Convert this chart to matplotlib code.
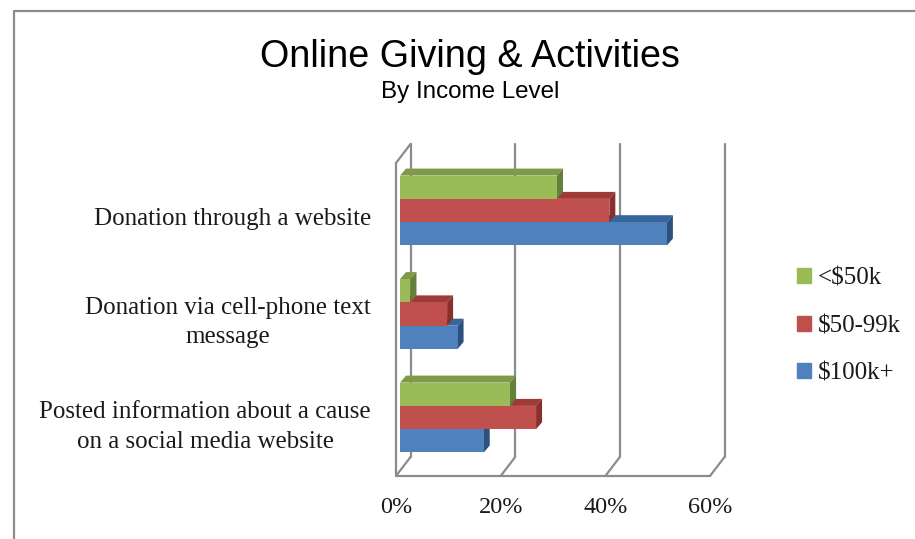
import matplotlib
matplotlib.use("Agg")
import matplotlib.pyplot as plt
from matplotlib.lines import Line2D
from matplotlib.patches import Patch
from matplotlib.transforms import ScaledTranslation

categories = [
    "Donation through a website",
    "Donation via cell-phone text\nmessage",
    "Posted information about a cause\non a social media website",
]
series_names = ["<$50k", "$50-99k", "$100k+"]
low_income = [30, 2, 21]
mid_income = [40, 9, 26]
high_income = [51, 11, 16]
x_ticks = [0, 20, 40, 60]

W, H = 915, 539
# fill colours: front, top, side
GREEN = ("#9BBB59", "#7E9A48", "#64803A")
RED = ("#C0504D", "#9E3B39", "#8A2F2D")
BLUE = ("#4F81BD", "#38659B", "#2C5180")
WALL = "#8C8C8C"
SERIF = "Liberation Serif"
SANS = "Liberation Sans"

fig = plt.figure(figsize=(W / 100, H / 100), dpi=100, facecolor="white")
left, right, top, bottom = 396, 710, 163, 476
ax = fig.add_axes([left / W, 1 - bottom / H, (right - left) / W, (bottom - top) / H])
ax.set_xlim(0, 60)
ax.set_ylim(2.502, -0.522)
ax.patch.set_visible(False)
for sp in ax.spines.values():
    sp.set_visible(False)

xpx = 60 / (right - left)   # data units per pixel
ypx = 1 / 103.5
wall_dx, wall_dy = 14.5 * xpx, 19 * ypx
y_top, y_bot = ax.get_ylim()[1], ax.get_ylim()[0]

# back wall lines and floor diagonals
line = dict(color=WALL, lw=1.6, clip_on=False, zorder=1, solid_capstyle="round")
for t in x_ticks:
    ax.plot([t + wall_dx, t + wall_dx], [y_top - wall_dy, y_bot - wall_dy], **line)
    ax.plot([t, t + wall_dx], [y_bot, y_bot - wall_dy], **line)
ax.plot([0, 60], [y_bot, y_bot], **line)
ax.plot([0, 0], [y_bot, y_top], **line)
ax.plot([0, wall_dx], [y_top, y_top - wall_dy], **line)

# 3-D bars, blue first so the upper bars cover the top faces below them
bar_h = 23.3 * ypx
dep_x, dep_y = 6 * xpx, 7 * ypx
start = 4 * xpx
shift = -6.5 * ypx


def draw_bar(v, yc, cols, z):
    x0, x1 = start, start + v
    y0, y1 = yc - bar_h / 2, yc + bar_h / 2
    kw = dict(clip_on=False, zorder=z, lw=0)
    ax.fill([x0, x1, x1 + dep_x, x0 + dep_x], [y0, y0, y0 - dep_y, y0 - dep_y], color=cols[1], **kw)
    ax.fill([x1, x1 + dep_x, x1 + dep_x, x1], [y0, y0 - dep_y, y1 - dep_y, y1], color=cols[2], **kw)
    ax.fill([x0, x1, x1, x0], [y0, y0, y1, y1], color=cols[0], **kw)


for i in range(len(categories)):
    yc = i + shift
    draw_bar(high_income[i], yc + bar_h, BLUE, 3)
    draw_bar(mid_income[i], yc, RED, 4)
    draw_bar(low_income[i], yc - bar_h, GREEN, 5)

ax.set_xticks(x_ticks)
ax.set_xticklabels([f"{t}%" for t in x_ticks], fontsize=17.5, family=SERIF, color="#1a1a1a")
ax.set_yticks(range(len(categories)))
ax.set_yticklabels(categories, fontsize=18, family=SERIF, color="#1a1a1a",
                   multialignment="center", linespacing=1.45)
ax.tick_params(axis="both", length=0)
ax.tick_params(axis="x", pad=15)
ax.tick_params(axis="y", pad=18)

# the two-line labels sit a little higher than the automatic centring
for lab, up in zip(ax.get_yticklabels(), [1, 4.5, 3.5]):
    lab.set_transform(lab.get_transform() + ScaledTranslation(0, up / 100, fig.dpi_scale_trans))

handles = [Patch(color=c[0]) for c in (GREEN, RED, BLUE)]
ax.legend(handles, series_names, loc="center left", bbox_to_anchor=(797 / W, 1 - 326 / H),
          bbox_transform=fig.transFigure, frameon=False, handlelength=0.56, handleheight=0.56,
          handletextpad=0.28, labelspacing=1.02, borderpad=0, borderaxespad=0,
          prop={"family": SERIF, "size": 18}, labelcolor="#1a1a1a")

fig.text(470 / W, 1 - 57 / H, "Online Giving & Activities", ha="center", va="center",
         family=SANS, fontsize=27.2, color="black")
fig.text(470 / W, 1 - 92 / H, "By Income Level", ha="center", va="center",
         family=SANS, fontsize=17.4, color="black")

# chart frame, cut off by the crop on the right and at the bottom
fig.add_artist(Line2D([14 / W, 14 / W, 1], [0, 1 - 11 / H, 1 - 11 / H], color="#8C8C8C", lw=1.6))

fig.savefig("out.png", dpi=100)
